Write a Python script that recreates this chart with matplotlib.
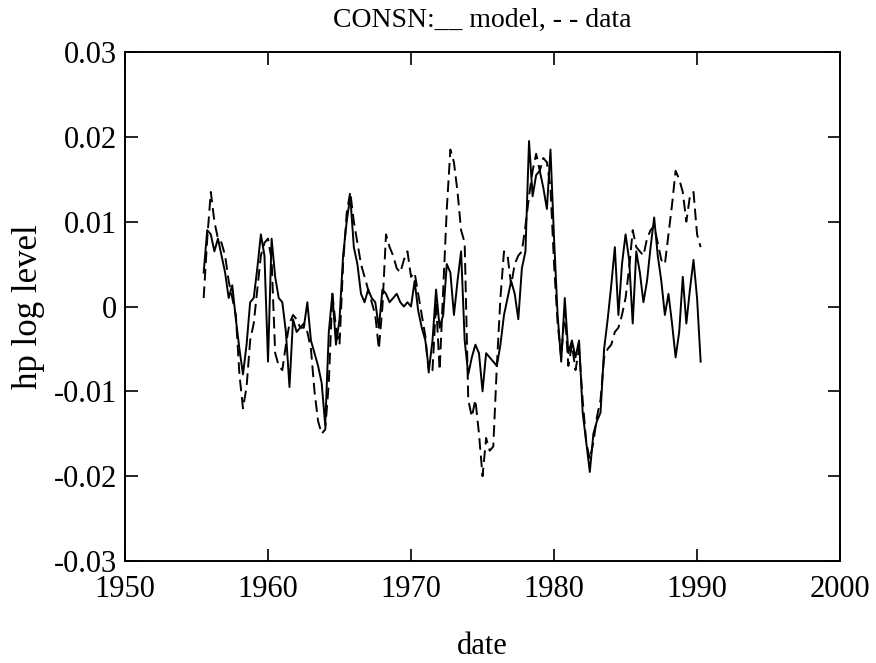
import matplotlib
matplotlib.use('Agg')
import matplotlib.pyplot as plt
import numpy as np

# quarterly dates, 1955Q3 .. 1990Q2
start_year = 1955.5

# values in units of 1e-3 (hp filtered log level)
model = [
    4, 9,
    8.5, 6.5, 8, 6,
    4, 1, 2.5, -1.5,
    -5, -8, -4.5, 0.5,
    1, 4.5, 8.5, 6,
    -6.5, 8, 3.5, 1,
    0.5, -3, -9.5, -1.5,
    -3, -2.5, -2.5, 0.5,
    -4, -5.5, -7, -9,
    -14, -3, 1.5, -4.5,
    -1.5, 6, 10, 13,
    7, 5, 1.5, 0.5,
    2, 1, 0.5, -2.5,
    2, 1.5, 0.5, 1,
    1.5, 0.5, 0, 0.5,
    0, 3, -0.5, -2.5,
    -4, -7.5, -4, 2,
    -2.5, -1, 5, 4,
    -1, 3, 6.5, -4,
    -8, -6, -4.5, -5.5,
    -10, -5.5, -6, -6.5,
    -7, -4.5, -1, 1,
    3, 1.5, -1.5, 4.5,
    6.5, 19.5, 13, 15.5,
    16, 14, 11.5, 18.5,
    8, -1, -6.5, 1,
    -5.5, -4, -6, -4,
    -12.5, -16, -19.5, -15,
    -13.5, -12.5, -5, -1.5,
    2.5, 7, -1, 5,
    8.5, 5.5, -2, 6.5,
    4, 0.5, 3, 7,
    10.5, 6, 3, -1,
    1.5, -2, -6, -3,
    3.5, -2, 2, 5.5,
    1, -6.5,
]

data = [
    1, 8,
    13.5, 10, 8, 7.5,
    6, 3, 1, -1,
    -8, -12, -9.5, -4,
    -2, 2, 6, 7.5,
    8, 5.5, -5.5, -7,
    -7.5, -4.5, -2, -1,
    -1.5, -2.5, -2, -3,
    -5, -10, -13.5, -15,
    -14.5, -9, 1.5, -2.5,
    -4.5, 5, 11, 13.5,
    10, 7.5, 5, 3.5,
    2, 0.5, -1, -5,
    0, 8.5, 7, 6,
    4.5, 4, 5.5, 6.5,
    3.5, 4, 1.5, -1,
    -3.5, -8, -7.5, 0.5,
    -7.5, 2, 11.5, 18.5,
    17, 13.5, 9, 7.5,
    -11, -13, -11, -15,
    -20, -15.5, -17, -16.5,
    -7, 1, 6.5, 6,
    2.5, 5, 6, 6.5,
    9.5, 13, 16, 18,
    16, 17.5, 17, 14,
    5, -2, -6, -0.5,
    -7, -4.5, -7.5, -5,
    -11, -16, -18, -16,
    -13, -11, -6, -5,
    -4.5, -3, -2.5, -1,
    1, 4.5, 9, 7,
    6.5, 6, 8, 9,
    9.5, 7.5, 5.5, 5,
    8.5, 12, 16, 15,
    13.5, 10, 13, 13.5,
    8.5, 7,
]

dates = start_year + 0.25 * np.arange(len(model))
model = np.array(model) / 1000.0
data = np.array(data) / 1000.0

plt.rcParams["font.family"] = ["Liberation Serif", "DejaVu Serif"]

fig = plt.figure(figsize=(8.76, 6.63), dpi=100)
ax = fig.add_axes([0.1427, 0.1538, 0.8163, 0.7678])

ax.plot(dates, model, color='black', lw=1.4)
ax.plot(dates, data, color='black', lw=1.4, linestyle=(0, (6, 3)))

ax.set_xlim(1950, 2000)
ax.set_ylim(-0.03, 0.03)
ax.set_xticks([1950, 1960, 1970, 1980, 1990, 2000])
ax.set_yticks([-0.03, -0.02, -0.01, 0, 0.01, 0.02, 0.03])
ax.set_yticklabels(['-0.03', '-0.02', '-0.01', '0', '0.01', '0.02', '0.03'])

ax.tick_params(direction='in', length=9, width=1.2, labelsize=22,
               top=True, right=True)
ax.tick_params(axis='x', pad=10)
ax.tick_params(axis='y', pad=6)
for s in ax.spines.values():
    s.set_linewidth(1.4)

ax.set_title('CONSN:__ model, - - data', fontsize=20, pad=18)
ax.set_xlabel('date', fontsize=22, labelpad=20)
ax.set_ylabel('hp log level', fontsize=25, labelpad=6)

plt.savefig('out.png', dpi=100)
